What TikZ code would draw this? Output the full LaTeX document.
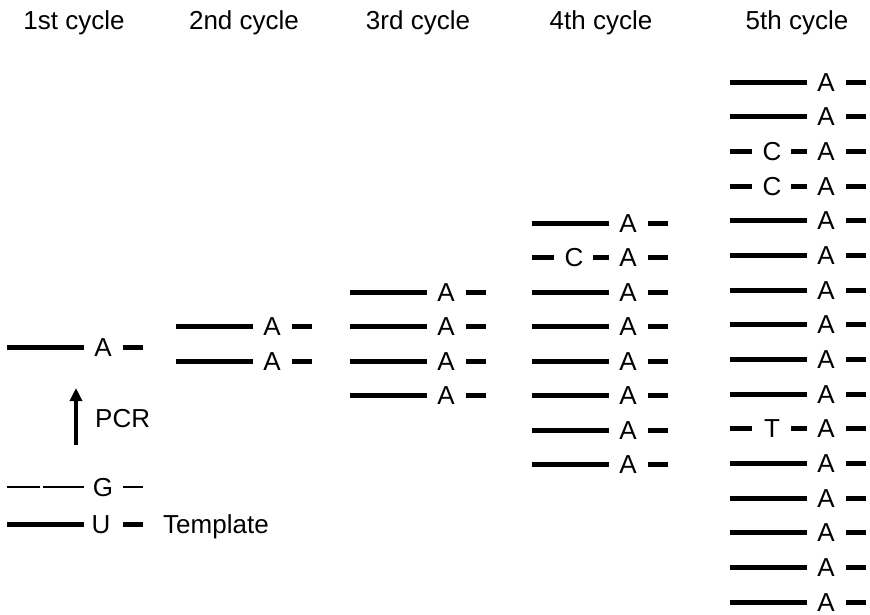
\documentclass[tikz,border=0pt]{standalone}
\usepackage{fontspec}
\setmainfont{Liberation Sans}
\usetikzlibrary{arrows.meta}

\tikzset{
  strand/.style={line width=5pt},
  thinstrand/.style={line width=2.2pt},
  letter/.style={font=\fontsize{26}{31}\selectfont, inner sep=0pt, anchor=base},
  pcrarrow/.style={line width=4pt, -{Triangle[length=13pt,width=12pt]}},
}

% full copy: name, x, y
\newcommand{\fullrow}[3]{%
  \draw[strand] (#2,#3) -- ++(77,0);
  \node[letter] (#1) at ({#2+96},{#3+9}) {A};
  \draw[strand] ({#2+116},#3) -- ++(20,0);
}
% copy with a wrong base: name, x, y, base
\newcommand{\mutrow}[4]{%
  \draw[strand] (#2,#3) -- ++(22,0);
  \node[letter] (#1m) at ({#2+42},{#3+9}) {#4};
  \draw[strand] ({#2+61},#3) -- ++(16,0);
  \node[letter] (#1) at ({#2+96},{#3+9}) {A};
  \draw[strand] ({#2+116},#3) -- ++(20,0);
}

\begin{document}
\begin{tikzpicture}[x=1pt,y=-1pt]
  \useasboundingbox (0,0) rectangle (870,614);

  % headers
  \node[letter] (head1) at (74,29) {1st cycle};
  \node[letter] (head2) at (244,29) {2nd cycle};
  \node[letter] (head3) at (418,29) {3rd cycle};
  \node[letter] (head4) at (601,29) {4th cycle};
  \node[letter] (head5) at (797,29) {5th cycle};

  % 1st cycle
  \fullrow{c1a}{7}{347}
  \draw[thinstrand] (7,487) -- (40,487);
  \draw[thinstrand] (43,487) -- (84,487);
  \node[letter] (g) at (103,496) {G};
  \draw[thinstrand] (123,487) -- (143,487);
  \draw[strand] (7,524) -- ++(77,0);
  \node[letter] (u) at (101,533) {U};
  \draw[strand] (123,524) -- ++(20,0);
  \node[letter, anchor=base west] (template) at (163,533) {Template};
  \coordinate (pcrlow) at (76,445);
  \coordinate (pcrhigh) at (76,388);
  \draw[pcrarrow] (pcrlow) -- (pcrhigh);
  \node[letter, anchor=base west] (pcr) at (95,427) {PCR};

  % 2nd cycle
  \foreach \i in {0,1} {
    \fullrow{c2a\i}{176}{326.5+34.5*\i}
  }

  % 3rd cycle
  \foreach \i in {0,...,3} {
    \fullrow{c3a\i}{350}{292+34.5*\i}
  }

  % 4th cycle
  \foreach \i in {0,2,3,4,5,6,7} {
    \fullrow{c4a\i}{532}{223+34.5*\i}
  }
  \mutrow{c4a1}{532}{257.5}{C}

  % 5th cycle
  \foreach \i in {0,1,4,5,6,7,8,9,11,12,13,14,15} {
    \fullrow{c5a\i}{730}{82+34.67*\i}
  }
  \foreach \i in {2,3} {
    \mutrow{c5a\i}{730}{82+34.67*\i}{C}
  }
  \mutrow{c5a10}{730}{428.7}{T}
\end{tikzpicture}
\end{document}
